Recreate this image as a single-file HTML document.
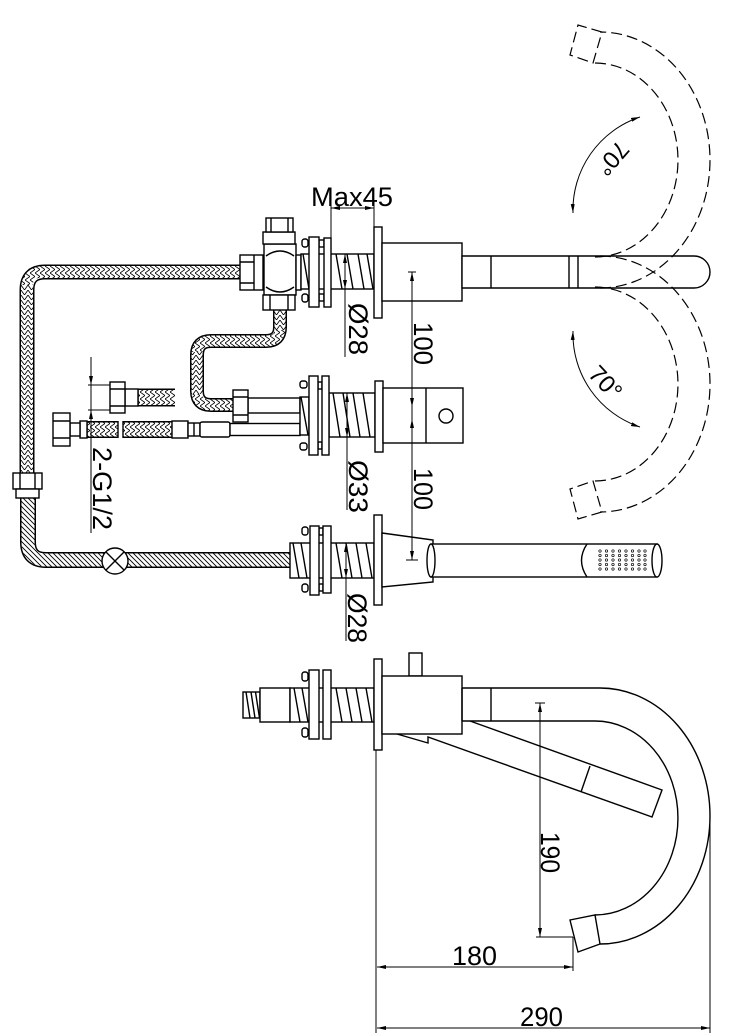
<!DOCTYPE html>
<html><head><meta charset="utf-8"><style>
html,body{margin:0;padding:0;background:#fff;}
svg{display:block;}
.o{fill:#fff;stroke:#000;stroke-width:1.4;}
.l{fill:none;stroke:#000;stroke-width:1.4;}
.d{fill:none;stroke:#000;stroke-width:1;}
.ds{fill:none;stroke:#000;stroke-width:1.2;stroke-dasharray:11 5;}
.t{font-family:"Liberation Sans",Arial,sans-serif;font-size:27px;fill:#000;}
</style></head><body>
<svg width="738" height="1036" viewBox="0 0 738 1036" xmlns="http://www.w3.org/2000/svg">
<defs>
<pattern id="braid" width="5" height="7" patternUnits="userSpaceOnUse"><path d="M0,0L5,3.5L0,7" fill="none" stroke="#000" stroke-width="0.8"/></pattern>
<pattern id="braidv" width="7" height="5" patternUnits="userSpaceOnUse"><path d="M0,0L3.5,5L7,0" fill="none" stroke="#000" stroke-width="0.8"/></pattern>
<pattern id="hatch" width="5" height="5" patternUnits="userSpaceOnUse"><path d="M-1,-1L6,6M-1,4L1,6M4,-1L6,1" stroke="#000" stroke-width="0.9"/></pattern>
<marker id="ar" viewBox="0 0 10 10" refX="10" refY="5" markerUnits="userSpaceOnUse" markerWidth="9" markerHeight="4" orient="auto-start-reverse" preserveAspectRatio="none"><path d="M0,0L10,5L0,10z" fill="#000"/></marker>
</defs>

<!-- ===== HOSES ===== -->
<!-- main braided hose -->
<path d="M240,272 H45 Q27,272 27,290 V474" fill="none" stroke="#000" stroke-width="15"/>
<path d="M240,272 H45 Q27,272 27,290 V474" fill="none" stroke="#fff" stroke-width="12"/>
<path d="M240,272 H40" fill="none" stroke="url(#braid)" stroke-width="12"/>
<path d="M27,285 V474" fill="none" stroke="url(#braidv)" stroke-width="12"/>
<path d="M40,272 Q27,272 27,285" fill="none" stroke="url(#braid)" stroke-width="12"/>
<!-- hatched pipe to hand shower -->
<path d="M28,497 V542 Q28,560 46,560 H291" fill="none" stroke="#000" stroke-width="16"/>
<path d="M28,497 V542 Q28,560 46,560 H291" fill="none" stroke="#fff" stroke-width="13"/>
<path d="M28,497 V542 Q28,560 46,560 H291" fill="none" stroke="url(#hatch)" stroke-width="13"/>
<!-- valve circle -->
<circle cx="115" cy="561" r="13" class="o"/>
<path d="M106,552 L124,570 M124,552 L106,570" class="l" stroke-width="1.1"/>
<!-- lower nut on main hose -->
<rect x="13" y="473" width="29" height="16" class="o"/>
<path d="M20,473 V489 M35,473 V489" class="l" stroke-width="1"/>
<rect x="16" y="489" width="23" height="9" class="o"/>

<!-- hose valve bottom -> pipe A -->
<path d="M280,310 V327 Q280,341 266,341 H211 Q197,341 197,355 V391 Q197,405 211,405 H233" fill="none" stroke="#000" stroke-width="14"/>
<path d="M280,310 V327 Q280,341 266,341 H211 Q197,341 197,355 V391 Q197,405 211,405 H233" fill="none" stroke="#fff" stroke-width="11"/>
<path d="M280,310 V330 M197,352 V394" fill="none" stroke="url(#braidv)" stroke-width="11"/>
<path d="M280,330 Q280,341 266,341 H211 Q197,341 197,352 M197,394 Q197,405 211,405 H233" fill="none" stroke="url(#braid)" stroke-width="11"/>

<!-- supply hose B pieces -->
<path d="M87,429.5 H118 M123,429.5 H172" fill="none" stroke="#000" stroke-width="17"/>
<path d="M87,429.5 H118 M123,429.5 H172" fill="none" stroke="#fff" stroke-width="14"/>
<path d="M87,429.5 H118 M123,429.5 H172" fill="none" stroke="url(#braid)" stroke-width="14"/>
<path d="M87,421 V438 M118,421 V438 M123,421 V438" class="l" stroke-width="1.2"/>
<rect x="80" y="421" width="7" height="17" class="o"/>
<rect x="70" y="423" width="10" height="13" class="o"/>
<rect x="53" y="413" width="17" height="33" class="o"/>
<path d="M53,421 H70 M53,438 H70" class="l" stroke-width="1"/>
<rect x="172" y="421" width="16" height="17" class="o"/>
<rect x="188" y="423" width="12" height="13" class="o"/>
<path d="M194,423 V436" class="l" stroke-width="1"/>
<rect x="200" y="422" width="30" height="15" rx="2" class="o"/>
<rect x="230" y="423.5" width="70" height="12" class="o"/>

<!-- supply hose upper short piece -->
<path d="M138,397.5 H175" fill="none" stroke="#000" stroke-width="18"/>
<path d="M138,397.5 H175" fill="none" stroke="#fff" stroke-width="15"/>
<path d="M138,397.5 H175" fill="none" stroke="url(#braid)" stroke-width="15"/>
<path d="M138,389 V406" class="l" stroke-width="1.2"/>
<rect x="125" y="389" width="13" height="17" class="o"/>
<rect x="110" y="382" width="15" height="31" class="o"/>
<path d="M110,389 H125 M110,406 H125" class="l" stroke-width="1"/>

<!-- pipe A + nut -->
<rect x="248" y="398" width="52" height="15" class="o"/>
<rect x="233" y="390" width="15" height="32" class="o"/>
<path d="M233,397 H248 M233,415 H248" class="l" stroke-width="1"/>

<!-- ===== TOP UNIT (spout) ===== -->
<rect x="240" y="255" width="23" height="35" class="o"/>
<path d="M254,255 V290 M240,262 H254 M240,283 H254" class="l" stroke-width="1"/>
<rect x="264" y="244" width="32" height="51" class="o"/>
<path d="M266,256 Q280,246 294,256 M266,287 Q280,297 294,287" class="l" stroke-width="1.2"/>
<rect x="263" y="232" width="32" height="12" class="o"/>
<rect x="266" y="218" width="27" height="14" class="o"/>
<path d="M271,218 V232 M288,218 V232" class="l" stroke-width="1"/>
<rect x="263" y="295" width="32" height="15" class="o"/>
<path d="M270,295 V310 M288,295 V310" class="l" stroke-width="1"/>
<rect x="296" y="255" width="5" height="35" class="o"/>
<rect x="301" y="254" width="73" height="35" class="o"/>
<path d="M303,254 L309,289 M336,254 L342,289 M347,254 L353,289 M358,254 L364,289 M367,254 L373,289" class="l" stroke-width="1"/>
<rect x="302" y="239" width="6" height="8" rx="2.5" class="o" stroke-width="1.1"/>
<rect x="302" y="294" width="6" height="8" rx="2.5" class="o" stroke-width="1.1"/>
<rect x="319" y="240" width="5" height="7" class="o" stroke-width="1"/>
<rect x="319" y="294" width="5" height="7" class="o" stroke-width="1"/>
<rect x="309" y="237" width="10" height="70" class="o"/>
<rect x="324" y="238" width="7" height="69" class="o"/>
<rect x="374" y="227" width="8" height="91" class="o"/>
<rect x="382" y="243" width="80" height="58" class="o"/>
<path d="M462,256 H694 A16,16 0 0 1 694,288 H462 Z" class="o"/>
<path d="M491,256 V288 M569,256 V288 M578,256 V288" class="l"/>

<!-- dashed swing positions -->
<path d="M600,288 A110,128 0 0 0 600,32" class="ds"/>
<path d="M595,257 A83,97 0 0 0 595,63" class="ds"/>
<path d="M602,32 L578,25 L570,55 L593,63 Z" class="ds"/>
<path d="M600,256 A110,128 0 0 1 600,512" class="ds"/>
<path d="M595,287 A83,97 0 0 1 595,481" class="ds"/>
<path d="M602,512 L578,519 L570,489 L593,481 Z" class="ds"/>

<!-- 70 degree arcs -->
<path d="M573,213 A98,98 0 0 1 640,117" class="d" marker-start="url(#ar)" marker-end="url(#ar)"/>
<path d="M573,331 A98,98 0 0 0 640,427" class="d" marker-start="url(#ar)" marker-end="url(#ar)"/>
<text class="t" style="font-size:24px" text-anchor="middle" dominant-baseline="central" transform="translate(612,158) rotate(131)">70°</text>
<text class="t" style="font-size:24px" text-anchor="middle" dominant-baseline="central" transform="translate(605,383) rotate(47)">70°</text>

<!-- Max45 -->
<path d="M331,200 V238 M374,200 V227" class="d"/>
<path d="M331,208 H374" class="d" marker-start="url(#ar)" marker-end="url(#ar)"/>
<text class="t" x="311" y="206" textLength="82" lengthAdjust="spacingAndGlyphs">Max45</text>

<!-- ===== MIDDLE UNIT (handle) ===== -->
<rect x="300" y="397" width="9" height="38" class="o"/>
<path d="M301,397 L308,435" class="l" stroke-width="1"/>
<rect x="329" y="393" width="46" height="44" class="o"/>
<path d="M333,393 L340,437 M343,393 L350,437 M353,393 L360,437 M363,393 L370,437" class="l" stroke-width="1"/>
<rect x="300" y="381" width="7" height="7" rx="2.5" class="o" stroke-width="1.1"/>
<rect x="300" y="443" width="7" height="7" rx="2.5" class="o" stroke-width="1.1"/>
<rect x="318" y="382" width="4" height="7" class="o" stroke-width="1"/>
<rect x="318" y="442" width="4" height="7" class="o" stroke-width="1"/>
<rect x="309" y="376" width="9" height="79" class="o"/>
<rect x="322" y="376" width="7" height="79" class="o"/>
<rect x="375" y="381" width="8" height="71" class="o"/>
<rect x="383" y="388" width="80" height="55" class="o"/>
<path d="M426,388 V443" class="l"/>
<circle cx="446" cy="416" r="7" class="o"/>

<!-- ===== HAND SHOWER UNIT ===== -->
<rect x="290" y="543" width="84" height="35" class="o"/>
<path d="M293,543 L299,578 M301,543 L307,578 M336,543 L342,578 M346,543 L352,578 M356,543 L362,578 M366,543 L372,578" class="l" stroke-width="1"/>
<rect x="302" y="527" width="6" height="8" rx="2.5" class="o" stroke-width="1.1"/>
<rect x="302" y="584" width="6" height="8" rx="2.5" class="o" stroke-width="1.1"/>
<rect x="319" y="528" width="4" height="7" class="o" stroke-width="1"/>
<rect x="319" y="584" width="4" height="7" class="o" stroke-width="1"/>
<rect x="310" y="526" width="9" height="69" class="o"/>
<rect x="323" y="526" width="8" height="67" class="o"/>
<rect x="374" y="515" width="8" height="90" class="o"/>
<path d="M382,533 L433,540 L433,582 L382,587 Z" class="o"/>
<rect x="431" y="544" width="226" height="33" class="o"/>
<ellipse cx="431" cy="560.5" rx="4" ry="16.5" class="o"/>
<path d="M587,544 Q576,560.5 587,577" class="l"/>
<ellipse cx="657" cy="560.5" rx="5" ry="16.5" class="o"/>
<g fill="none" stroke="#000" stroke-width="0.7">
<circle cx="600" cy="551" r="1.2"/><circle cx="606.5" cy="551" r="1.2"/><circle cx="613" cy="551" r="1.2"/><circle cx="619.5" cy="551" r="1.2"/><circle cx="626" cy="551" r="1.2"/><circle cx="632.5" cy="551" r="1.2"/><circle cx="639" cy="551" r="1.2"/><circle cx="645" cy="551" r="1.2"/>
<circle cx="600" cy="555.5" r="1.2"/><circle cx="606.5" cy="555.5" r="1.2"/><circle cx="613" cy="555.5" r="1.2"/><circle cx="619.5" cy="555.5" r="1.2"/><circle cx="626" cy="555.5" r="1.2"/><circle cx="632.5" cy="555.5" r="1.2"/><circle cx="639" cy="555.5" r="1.2"/><circle cx="645" cy="555.5" r="1.2"/>
<circle cx="600" cy="560" r="1.2"/><circle cx="606.5" cy="560" r="1.2"/><circle cx="613" cy="560" r="1.2"/><circle cx="619.5" cy="560" r="1.2"/><circle cx="626" cy="560" r="1.2"/><circle cx="632.5" cy="560" r="1.2"/><circle cx="639" cy="560" r="1.2"/><circle cx="645" cy="560" r="1.2"/>
<circle cx="600" cy="564.5" r="1.2"/><circle cx="606.5" cy="564.5" r="1.2"/><circle cx="613" cy="564.5" r="1.2"/><circle cx="619.5" cy="564.5" r="1.2"/><circle cx="626" cy="564.5" r="1.2"/><circle cx="632.5" cy="564.5" r="1.2"/><circle cx="639" cy="564.5" r="1.2"/><circle cx="645" cy="564.5" r="1.2"/>
<circle cx="600" cy="569" r="1.2"/><circle cx="606.5" cy="569" r="1.2"/><circle cx="613" cy="569" r="1.2"/><circle cx="619.5" cy="569" r="1.2"/><circle cx="626" cy="569" r="1.2"/><circle cx="632.5" cy="569" r="1.2"/><circle cx="639" cy="569" r="1.2"/><circle cx="645" cy="569" r="1.2"/>
</g>

<!-- ===== top-view dimensions ===== -->
<path d="M345,289 L345,357" class="d"/>
<path d="M345,289 L345,254" class="d" marker-start="url(#ar)" marker-end="url(#ar)"/>
<text class="t" x="0" y="0" textLength="52" lengthAdjust="spacingAndGlyphs" transform="translate(349,303) rotate(90)">Ø28</text>
<path d="M408,272 H416 M406,560 H418" class="d"/>
<path d="M412,407 L412,272" class="d" marker-start="url(#ar)" marker-end="url(#ar)"/>
<path d="M412,419 L412,560" class="d" marker-start="url(#ar)" marker-end="url(#ar)"/>
<path d="M412,407 V419" class="d"/>
<text class="t" x="0" y="0" textLength="43" lengthAdjust="spacingAndGlyphs" transform="translate(414,322) rotate(90)">100</text>
<text class="t" x="0" y="0" textLength="42" lengthAdjust="spacingAndGlyphs" transform="translate(414,468) rotate(90)">100</text>
<path d="M347,437 L347,510" class="d"/>
<path d="M347,437 L347,393" class="d" marker-start="url(#ar)" marker-end="url(#ar)"/>
<text class="t" x="0" y="0" textLength="53" lengthAdjust="spacingAndGlyphs" transform="translate(349,460) rotate(90)">Ø33</text>
<path d="M346,578 L346,641" class="d"/>
<path d="M346,578 L346,543" class="d" marker-start="url(#ar)" marker-end="url(#ar)"/>
<text class="t" x="0" y="0" textLength="50" lengthAdjust="spacingAndGlyphs" transform="translate(348,593) rotate(90)">Ø28</text>
<path d="M91,357 V533 M88,385 H110 M88,410 H110" class="d"/>
<path d="M91,365 L91,385" class="d" marker-end="url(#ar)"/>
<path d="M91,430 L91,410" class="d" marker-end="url(#ar)"/>
<text class="t" x="0" y="0" textLength="83" lengthAdjust="spacingAndGlyphs" transform="translate(93,447) rotate(90)">2-G1/2</text>

<!-- ===== SIDE VIEW ===== -->
<rect x="243" y="692" width="17" height="26" class="o"/>
<path d="M246,692 L250,718 M251,692 L255,718 M255.5,692 L259.5,718" class="l" stroke-width="1"/>
<rect x="260" y="688" width="30" height="34" class="o"/>
<rect x="290" y="688" width="84" height="34" class="o"/>
<path d="M294,688 L300,722 M302,688 L308,722 M336,688 L342,722 M346,688 L352,722 M356,688 L362,722 M366,688 L372,722" class="l" stroke-width="1"/>
<rect x="302" y="672" width="6" height="9" rx="2.5" class="o" stroke-width="1.1"/>
<rect x="302" y="728" width="6" height="9" rx="2.5" class="o" stroke-width="1.1"/>
<rect x="309" y="670" width="10" height="69" class="o"/>
<rect x="323" y="670" width="8" height="69" class="o"/>
<rect x="374" y="659" width="8" height="91" class="o"/>
<rect x="409" y="653" width="13" height="23" class="o"/>
<path d="M397,734 L428,743 L428,737 L652,817 L662,790 L470,721" class="o"/>
<path d="M590,766 L581,792" class="l"/>
<rect x="382" y="676" width="80" height="58" class="o"/>
<path d="M462,688 H600 A110,128 0 0 1 600,944 M462,721 H595 A83,97 0 0 1 595,915" class="l"/>
<path d="M462,688 V721 M491,688 V721" class="l"/>
<path d="M600,944 L578,952 L570,920 L595,915 Z" class="o"/>

<!-- side dims -->
<path d="M535,703 H545 M536,937 H573 M573,937 V971 M376,750 V1033 M710,817 V1033" class="d"/>
<path d="M540,703 L540,937" class="d" marker-start="url(#ar)" marker-end="url(#ar)"/>
<text class="t" x="0" y="0" textLength="41" lengthAdjust="spacingAndGlyphs" transform="translate(541,832) rotate(90)">190</text>
<path d="M377,967 L573,967" class="d" marker-start="url(#ar)" marker-end="url(#ar)"/>
<text class="t" x="452" y="965" textLength="45" lengthAdjust="spacingAndGlyphs">180</text>
<path d="M377,1028 L710,1028" class="d" marker-start="url(#ar)" marker-end="url(#ar)"/>
<text class="t" x="520" y="1026" textLength="43" lengthAdjust="spacingAndGlyphs">290</text>
</svg>
</body></html>
